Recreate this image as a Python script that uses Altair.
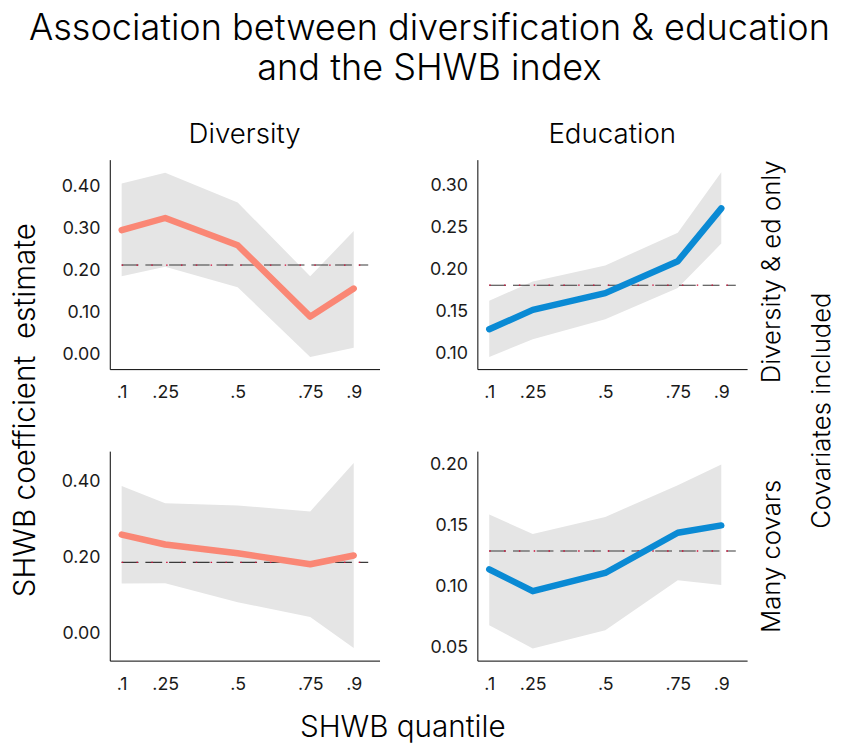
import altair as alt
import pandas as pd

# ---------------- data ----------------
quantiles = [0.1, 0.25, 0.5, 0.75, 0.9]
ols_span = [0.1, 0.95]

div_only_est = [0.296, 0.325, 0.260, 0.090, 0.157]
div_only_lo = [0.186, 0.209, 0.160, -0.006, 0.016]
div_only_hi = [0.407, 0.433, 0.362, 0.186, 0.294]
div_only_ols = 0.213

edu_only_est = [0.129, 0.152, 0.172, 0.210, 0.273]
edu_only_lo = [0.096, 0.117, 0.141, 0.178, 0.231]
edu_only_hi = [0.163, 0.186, 0.205, 0.244, 0.316]
edu_only_ols = 0.1815

div_cov_est = [0.261, 0.235, 0.212, 0.183, 0.206]
div_cov_lo = [0.132, 0.133, 0.083, 0.044, -0.038]
div_cov_hi = [0.389, 0.344, 0.338, 0.322, 0.450]
div_cov_ols = 0.188

edu_cov_est = [0.114, 0.096, 0.111, 0.144, 0.150]
edu_cov_lo = [0.068, 0.049, 0.064, 0.105, 0.101]
edu_cov_hi = [0.159, 0.143, 0.157, 0.183, 0.200]
edu_cov_ols = 0.129

x_domain = [0.059, 0.989]
tl_domain, tl_ticks = [-0.035, 0.464], [0.0, 0.1, 0.2, 0.3, 0.4]
tr_domain, tr_ticks = [0.0815, 0.331], [0.10, 0.15, 0.20, 0.25, 0.30]
bl_domain, bl_ticks = [-0.071, 0.481], [0.0, 0.2, 0.4]
br_domain, br_ticks = [0.039, 0.211], [0.05, 0.10, 0.15, 0.20]

SALMON = "#FA8775"
BLUE = "#0A8AD4"
FONT = "Inter"
W, H = 273, 212
STRIP = 26
AXT = 30


def panel(est, lo, hi, ols, color, ydomain, yticks, title=None,
          row_title=None, outer_title=None, y_title=None, x_title=None):
    df = pd.DataFrame({"q": quantiles, "est": est, "lo": lo, "hi": hi})
    ols_df = pd.DataFrame({"x": [ols_span[0]], "x2": [ols_span[1]], "y": [ols]})
    xs = alt.Scale(domain=x_domain, nice=False, zero=False)
    ys = alt.Scale(domain=ydomain, nice=False, zero=False)

    xaxis_kw = dict(values=quantiles,
                    labelExpr="replace(format(datum.value, '.2~f'), '0.', '.')",
                    ticks=False, grid=False, domainColor="black", domainWidth=1,
                    labelFontSize=18, labelPadding=15, labelColor="#1a1a1a",
                    labelFont=FONT, labelFlush=False)
    if x_title:
        xaxis_kw.update(title=x_title, titleX=296, titleY=68, titleFontSize=AXT,
                        titleFont=FONT, titleFontWeight=300, titleBaseline="middle",
                        titleAlign="center", titleColor="black")
    else:
        xaxis_kw.update(title=None)
    yaxis_kw = dict(values=yticks, format=".2f", ticks=False, grid=False,
                    domainColor="black", domainWidth=1, labelFontSize=18,
                    labelPadding=10, labelColor="#1a1a1a", labelFont=FONT)
    if y_title:
        yaxis_kw.update(title=y_title, titleX=-85, titleY=253, titleFontSize=AXT,
                        titleFont=FONT, titleFontWeight=300, titleAngle=270,
                        titleBaseline="middle", titleAlign="center", titleColor="black")
    else:
        yaxis_kw.update(title=None)

    def right_axis(text, tx, ty):
        return alt.Axis(orient="right", title=text, labels=False, ticks=False, domain=False,
                        grid=False, titleX=tx, titleY=ty, titleFontSize=STRIP, titleFont=FONT,
                        titleFontWeight=300, titleAngle=270, titleBaseline="middle",
                        titleAlign="center", titleColor="black")

    X = alt.X("q:Q", scale=xs, axis=alt.Axis(**xaxis_kw))
    band = alt.Chart(df).mark_area(color="#E5E5E5", opacity=1).encode(
        x=X,
        y=alt.Y("lo:Q", scale=ys, axis=alt.Axis(**yaxis_kw)),
        y2="hi:Q",
    )
    XR = alt.X("x:Q", scale=xs, axis=alt.Axis(**xaxis_kw))
    dash = alt.Chart(ols_df).mark_rule(color="#3a3a3a", strokeDash=[17, 7], strokeWidth=1.1).encode(
        x=XR,
        x2="x2:Q",
        y=alt.Y("y:Q", scale=ys,
                axis=right_axis(outer_title, 75, -41.5) if outer_title else None),
    )
    dots = alt.Chart(ols_df).mark_rule(color="#D0103A", strokeDash=[1.5, 13.5], strokeWidth=1.3).encode(
        x=XR,
        x2="x2:Q",
        y=alt.Y("y:Q", scale=ys, axis=None),
    )
    line = alt.Chart(df).mark_line(color=color, strokeWidth=6.5, strokeCap="round",
                                   strokeJoin="round").encode(
        x=X,
        y=alt.Y("est:Q", scale=ys,
                axis=right_axis(row_title[0], 25, row_title[1]) if row_title else None),
    )
    ch = alt.layer(band, dash, dots, line).resolve_axis(y="independent").properties(width=W, height=H)
    if title:
        ch = ch.properties(title=alt.TitleParams(title, fontSize=STRIP + 2, font=FONT, fontWeight=300,
                                                 color="black", anchor="middle", offset=11))
    return ch


tl = panel(div_only_est, div_only_lo, div_only_hi, div_only_ols, SALMON, tl_domain, tl_ticks,
           title="Diversity", y_title="SHWB coefficient\u00a0 estimate")
tr = panel(edu_only_est, edu_only_lo, edu_only_hi, edu_only_ols, BLUE, tr_domain, tr_ticks,
           title="Education", row_title=("Diversity & ed only", 113))
bl = panel(div_cov_est, div_cov_lo, div_cov_hi, div_cov_ols, SALMON, bl_domain, bl_ticks,
           x_title="SHWB quantile")
br = panel(edu_cov_est, edu_cov_lo, edu_cov_hi, edu_cov_ols, BLUE, br_domain, br_ticks,
           row_title=("Many covars", 106), outer_title="Covariates included")

chart = alt.concat(tl, tr, bl, br, columns=2, spacing={"row": 83, "column": 99},
                   bounds="flush").properties(
    title=alt.TitleParams(["Association between diversification & education", "and the SHWB index"],
                          fontSize=36.5, font=FONT, fontWeight=300, color="black",
                          anchor="middle", lineHeight=41, offset=34, dx=7),
    padding={"left": 2, "top": -2, "right": 5, "bottom": 5},
    background="white",
).configure_view(strokeWidth=0, stroke="transparent")

chart.save("out.html", embed_options={"renderer": "svg", "actions": False})
